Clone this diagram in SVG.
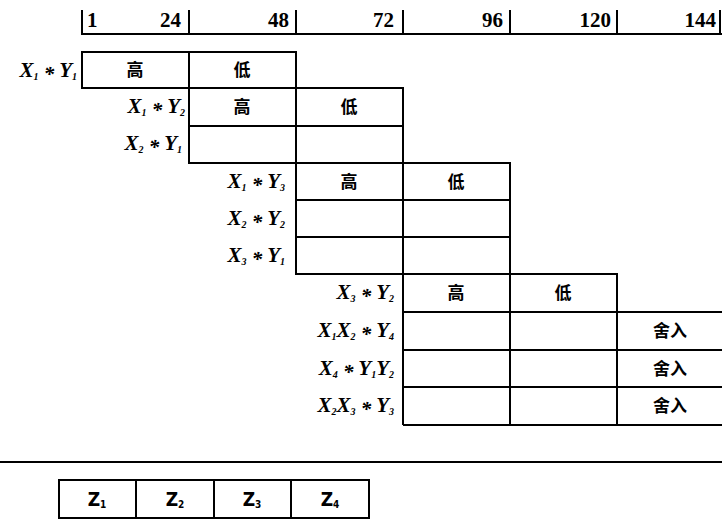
<svg xmlns="http://www.w3.org/2000/svg" width="722" height="519" viewBox="0 0 722 519">
<style>
.ln{stroke:#000;stroke-width:2;fill:none}
.num{font-family:"Liberation Serif",serif;font-weight:bold;font-size:21px;fill:#000}
.lbl{font-family:"Liberation Serif",serif;font-style:italic;font-weight:bold;font-size:21px;fill:#000;text-anchor:end}
.sub{font-size:10px}
.cn{font-family:"Noto Sans CJK SC","Noto Sans",sans-serif;font-weight:bold;font-size:17px;fill:#000;text-anchor:middle}
.z{font-family:"DejaVu Sans Condensed","DejaVu Sans",sans-serif;font-weight:bold;font-size:19px;fill:#000;text-anchor:middle}
</style>
<rect width="722" height="519" fill="#fff"/>
<g id="ruler">
<path class="ln" d="M82,10 V34 H722 M189,10 V34 M296,10 V34 M403,10 V34 M510,10 V34 M617,10 V34 M720,10 V34"/>
<text class="num" x="87" y="27">1</text>
<text class="num" x="181" y="27" text-anchor="end">24</text>
<text class="num" x="289" y="27" text-anchor="end">48</text>
<text class="num" x="394" y="27" text-anchor="end">72</text>
<text class="num" x="503" y="27" text-anchor="end">96</text>
<text class="num" x="611" y="27" text-anchor="end">120</text>
<text class="num" x="716" y="27" text-anchor="end">144</text>
</g>
<g id="p1">
<path class="ln" d="M82,52 H296 V88 H82 Z M189,52 V88"/>
<text class="cn" x="135" y="76">高</text>
<text class="cn" x="242" y="76">低</text>
<text class="lbl" x="77" y="77">X<tspan class="sub" dy="3">1</tspan><tspan dy="1">  *  </tspan><tspan dy="-4">Y</tspan><tspan class="sub" dy="3">1</tspan></text>
</g>
<g id="p2">
<path class="ln" d="M189,88 H403 V163 H189 Z M189,126 H403 M296,88 V163"/>
<text class="cn" x="242" y="113">高</text>
<text class="cn" x="349" y="113">低</text>
<text class="lbl" x="185" y="113">X<tspan class="sub" dy="3">1</tspan><tspan dy="1">  *  </tspan><tspan dy="-4">Y</tspan><tspan class="sub" dy="3">2</tspan></text>
<text class="lbl" x="182" y="150">X<tspan class="sub" dy="3">2</tspan><tspan dy="1">  *  </tspan><tspan dy="-4">Y</tspan><tspan class="sub" dy="3">1</tspan></text>
</g>
<g id="p3">
<path class="ln" d="M296,163 H510 V274 H296 Z M296,200 H510 M296,237 H510 M403,163 V274"/>
<text class="cn" x="349" y="188">高</text>
<text class="cn" x="456" y="188">低</text>
<text class="lbl" x="285" y="188">X<tspan class="sub" dy="3">1</tspan><tspan dy="1">  *  </tspan><tspan dy="-4">Y</tspan><tspan class="sub" dy="3">3</tspan></text>
<text class="lbl" x="285" y="225">X<tspan class="sub" dy="3">2</tspan><tspan dy="1">  *  </tspan><tspan dy="-4">Y</tspan><tspan class="sub" dy="3">2</tspan></text>
<text class="lbl" x="285" y="262">X<tspan class="sub" dy="3">3</tspan><tspan dy="1">  *  </tspan><tspan dy="-4">Y</tspan><tspan class="sub" dy="3">1</tspan></text>
</g>
<g id="p4">
<path class="ln" d="M403,274 H617 V425 M403,274 V425 M510,274 V425 M403,312 H722 M403,350 H722 M403,387 H722 M403,425 H722"/>
<text class="cn" x="456" y="299">高</text>
<text class="cn" x="563" y="299">低</text>
<text class="cn" x="670" y="337">舍入</text>
<text class="cn" x="670" y="375">舍入</text>
<text class="cn" x="670" y="412">舍入</text>
<text class="lbl" x="394" y="299">X<tspan class="sub" dy="3">3</tspan><tspan dy="1">  *  </tspan><tspan dy="-4">Y</tspan><tspan class="sub" dy="3">2</tspan></text>
<text class="lbl" x="394" y="337">X<tspan class="sub" dy="3">1</tspan><tspan dy="-3">X</tspan><tspan class="sub" dy="3">2</tspan><tspan dy="1">  *  </tspan><tspan dy="-4">Y</tspan><tspan class="sub" dy="3">4</tspan></text>
<text class="lbl" x="394" y="375">X<tspan class="sub" dy="3">4</tspan><tspan dy="1">  *  </tspan><tspan dy="-4">Y</tspan><tspan class="sub" dy="3">1</tspan><tspan dy="-3">Y</tspan><tspan class="sub" dy="3">2</tspan></text>
<text class="lbl" x="394" y="412">X<tspan class="sub" dy="3">2</tspan><tspan dy="-3">X</tspan><tspan class="sub" dy="3">3</tspan><tspan dy="1">  *  </tspan><tspan dy="-4">Y</tspan><tspan class="sub" dy="3">3</tspan></text>
</g>
<g id="connectors">
<path class="ln" d="M0,462 H722"/>
</g>
<g id="result">
<path class="ln" d="M59,480 H369 V518 H59 Z M136,480 V518 M214,480 V518 M291,480 V518"/>
<text class="z" x="97" y="506">Z<tspan class="sub" dy="2">1</tspan></text>
<text class="z" x="175" y="506">Z<tspan class="sub" dy="2">2</tspan></text>
<text class="z" x="252" y="506">Z<tspan class="sub" dy="2">3</tspan></text>
<text class="z" x="330" y="506">Z<tspan class="sub" dy="2">4</tspan></text>
</g>
</svg>
